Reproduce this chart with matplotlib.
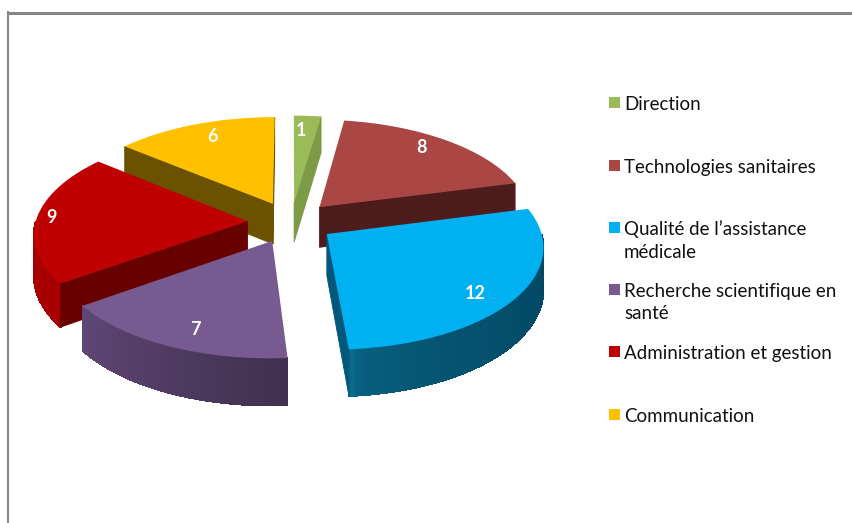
import matplotlib
matplotlib.use("Agg")
import matplotlib.pyplot as plt
from matplotlib.colors import to_rgb
from matplotlib.transforms import Transform
import numpy as np

# Data
categories = ["Direction", "Technologies sanitaires", "Qualité de l’assistance\nmédicale",
              "Recherche scientifique en\nsanté", "Administration et gestion", "Communication"]
values = [1, 8, 12, 7, 9, 6]

# Colours: top face, radial side, arc side (clockwise start, clockwise end)
top_colors = ["#9BBB59", "#AA4644", "#00B0F0", "#775A8F", "#C00000", "#FFC000"]
edge_colors = ["#7D9A46", "#4E1C1A", "#01587A", "#5F4775", "#680000", "#6B5200"]
arc_start = ["#7D9A46", "#4E1C1A", "#014560", "#40304F", "#A80000", "#6B5200"]
arc_end = ["#7D9A46", "#4E1C1A", "#0A6A8C", "#5F4775", "#A80000", "#6B5200"]
arc_gamma = [1, 1, 0.35, 1, 1, 1]

# Slices are painted back to front
draw_order = [0, 5, 1, 4, 2, 3]
label_radius = [0.82, 0.85, 0.84, 0.84, 0.93, 0.82]
label_turn = [1.5, 3, -5, 3, 0, -2]
legend_y = [103, 166, 228, 290, 352, 415]

# Tilted pie geometry, in pixels of the picture
CX, CY = 291, 222
RX, RY = 212, 100
PERSP = 0.11
DEPTH = 41


class TiltedPie(Transform):
    """Maps the unit pie onto the tilted disc, with some perspective."""
    input_dims = 2
    output_dims = 2

    def __init__(self, drop=0):
        super().__init__()
        self.drop = drop

    def transform_non_affine(self, xy):
        xy = np.asarray(xy, dtype=float)
        s = 1 / (1 + PERSP * xy[:, 1])
        return np.column_stack([CX + RX * xy[:, 0] * s,
                                CY - RY * xy[:, 1] * s + self.drop * s])


top = TiltedPie()
bottom = TiltedPie(DEPTH)


def side_face(ax, pts, color, zorder, smooth=True):
    a = top.transform(pts)
    b = bottom.transform(pts)[::-1]
    poly = np.vstack([a, b])
    ax.fill(poly[:, 0], poly[:, 1], color=color, lw=0.6, zorder=zorder, antialiased=smooth)


fig = plt.figure(figsize=(8.53, 5.23), dpi=100)
ax = fig.add_axes([0, 0, 1, 1])

wedges, _ = ax.pie(values, startangle=90, counterclock=False,
                   explode=[0.205] * len(values), colors=top_colors)
ax.set_aspect("auto")
ax.set_xlim(0, 853)
ax.set_ylim(523, 0)

for rank, i in enumerate(draw_order):
    w = wedges[i]
    z = 10 + rank * 3
    c = np.array(w.center)
    t1, t2 = np.radians(w.theta1), np.radians(w.theta2)

    # outer side, only the part that faces the viewer
    ang = np.linspace(t1, t2, 61)
    c0, c1 = np.array(to_rgb(arc_start[i])), np.array(to_rgb(arc_end[i]))
    for k in range(len(ang) - 1):
        if np.sin(ang[k:k + 2].mean()) >= 0:
            continue
        seg = c + w.r * np.column_stack([np.cos(ang[k:k + 2]), np.sin(ang[k:k + 2])])
        f = ((ang[k] - t1) / (t2 - t1)) ** arc_gamma[i]
        side_face(ax, seg, tuple((1 - f) * c1 + f * c0), z, smooth=False)

    # cut sides, only if turned to the viewer
    for t, normal in ((t1, t1 - np.pi / 2), (t2, t2 + np.pi / 2)):
        if np.sin(normal) < 0:
            seg = np.array([c, c + w.r * np.array([np.cos(t), np.sin(t)])])
            side_face(ax, seg, edge_colors[i], z + 1)

    # top face
    w.set_transform(top + ax.transData)
    w.set_zorder(z + 2)
    w.set_linewidth(0)

    # value label
    mid = np.radians((w.theta1 + w.theta2) / 2 + label_turn[i])
    p = c + w.r * label_radius[i] * np.array([np.cos(mid), np.sin(mid)])
    lx, ly = top.transform(p.reshape(1, 2))[0]
    ax.text(lx, ly, str(values[i]), color="white", fontsize=13, fontweight="bold",
            family="Lato", ha="center", va="center", zorder=50)

# Legend
for name, color, y in zip(categories, top_colors, legend_y):
    ax.fill([609, 620, 620, 609], [y - 6, y - 6, y + 5, y + 5], color=color, lw=0, zorder=50)
    ax.text(624, y - 7.5, name, fontsize=13.5, family="Lato", color="#111111",
            ha="left", va="top", linespacing=1.38, zorder=50)

# Chart frame
ax.plot([7, 853], [12.5, 12.5], color="#868686", lw=2.2, solid_capstyle="butt", zorder=60)
ax.plot([7.8, 7.8], [11, 523], color="#868686", lw=1.5, solid_capstyle="butt", zorder=60)

fig.savefig("out.png", dpi=100)
